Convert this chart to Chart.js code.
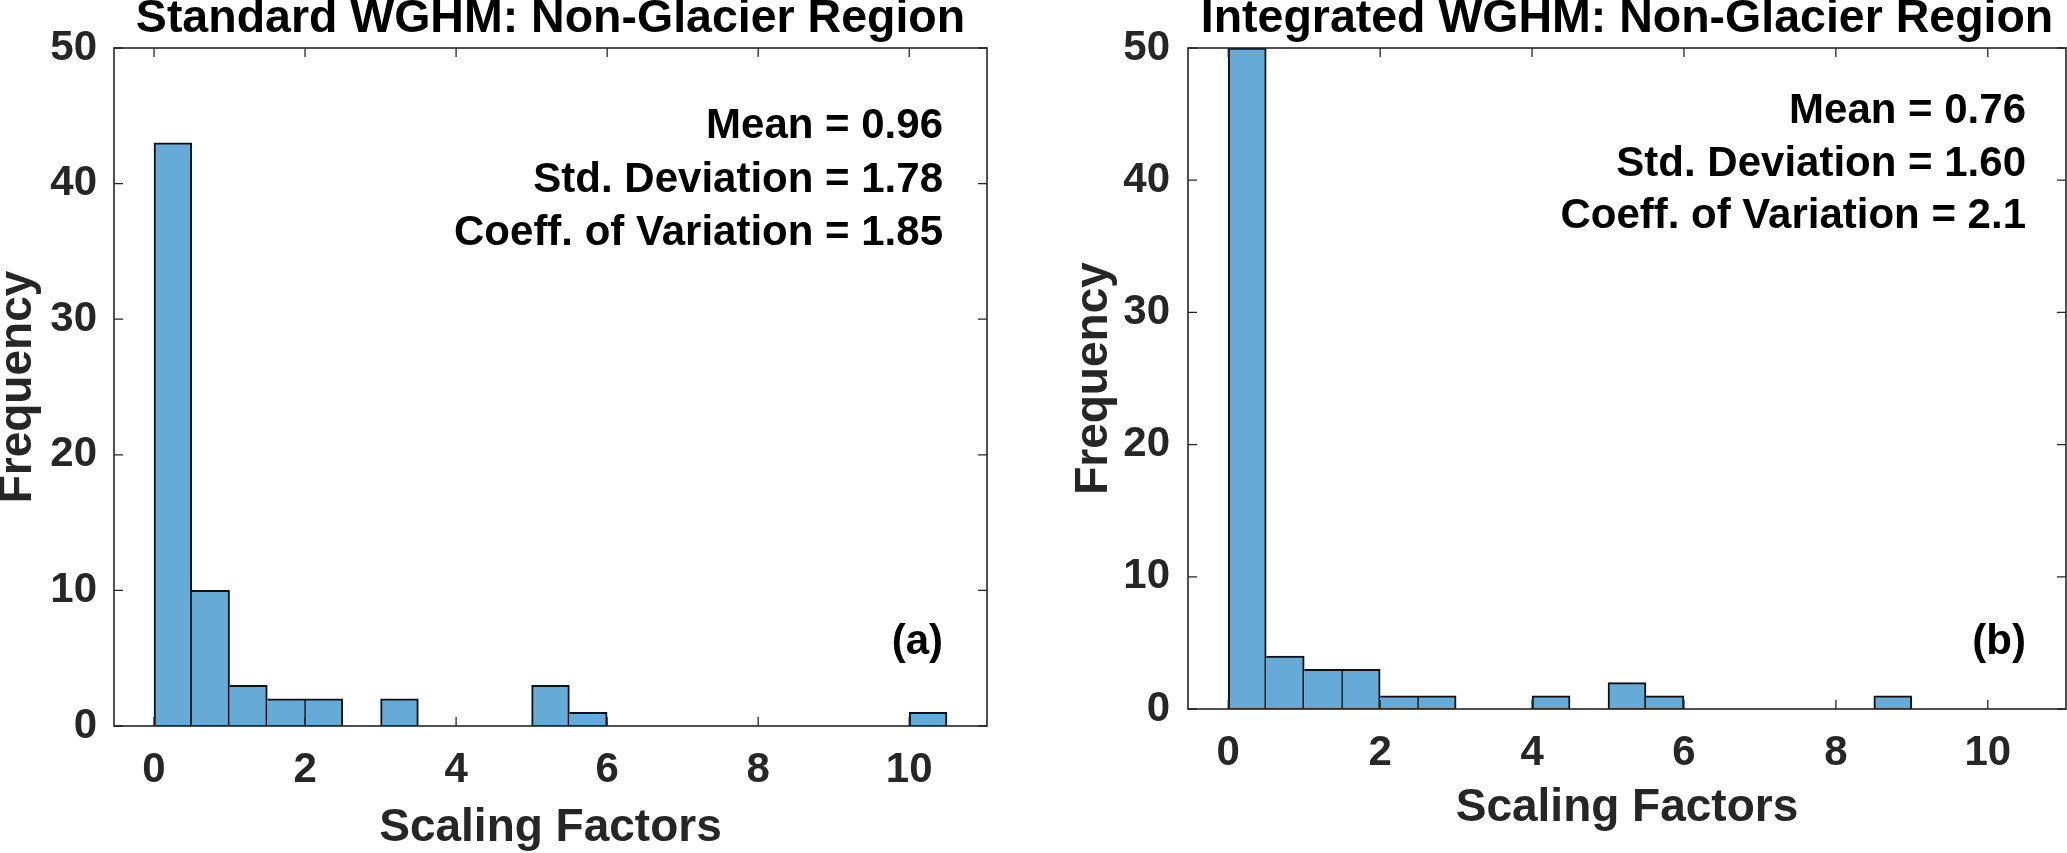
<!DOCTYPE html>
<html><head><meta charset="utf-8">
<script src="https://cdn.jsdelivr.net/npm/chart.js@4.4.1/dist/chart.umd.min.js"></script>
<style>
html,body{margin:0;padding:0;background:#fff;}
#wrap{position:relative;width:2067px;height:853px;overflow:hidden;}
#c1{position:absolute;left:0;top:0;}
#c2{position:absolute;left:1050px;top:0;}
</style></head><body>
<div id="wrap"><canvas id="c1" width="1050" height="853"></canvas><canvas id="c2" width="1017" height="853"></canvas></div>
<script>
// ---- data ----
const binWidth = 0.5;
const binStarts = [0,0.5,1,1.5,2,2.5,3,3.5,4,4.5,5,5.5,6,6.5,7,7.5,8,8.5,9,9.5,10,10.5];
const standardCounts   = [43,10,3,2,2,0,2,0,0,0,3,1,0,0,0,0,0,0,0,0,1,0];
const integratedCounts = [50,4,3,3,1,1,0,0,1,0,2,1,0,0,0,0,0,1,0,0,0,0];
const xTicks = [0,2,4,6,8,10];
const yTicks = [0,10,20,30,40,50];
const standardStats   = ['Mean = 0.96','Std. Deviation = 1.78','Coeff. of Variation = 1.85'];
const integratedStats = ['Mean = 0.76','Std. Deviation = 1.60','Coeff. of Variation = 2.1'];
const titles = ['Standard WGHM: Non-Glacier Region','Integrated WGHM: Non-Glacier Region'];
const panelTags = ['(a)','(b)'];
const xLabel = 'Scaling Factors';
const yLabel = 'Frequency';

const FONT = '"Liberation Sans", Arial, Helvetica, sans-serif';
const AX = '#262626';

function edgeWidths(counts, i) {
  const cur = counts[i], prev = i > 0 ? counts[i-1] : 0, next = i < counts.length-1 ? counts[i+1] : 0;
  const side = n => n === 0 ? 2 : (n > cur ? 0 : (n === cur ? 1 : 2));
  return {top: 2, bottom: 1, left: side(prev), right: side(next)};
}

const boxPlugin = {
  id: 'box',
  afterDatasetsDraw(chart) {
    const {ctx, chartArea: a, scales: {x, y}} = chart;
    const T = 9;
    ctx.save();
    ctx.strokeStyle = AX;
    ctx.lineWidth = 1.3;
    ctx.beginPath();
    xTicks.forEach(v => {
      const px = x.getPixelForValue(v);
      ctx.moveTo(px, a.bottom); ctx.lineTo(px, a.bottom - T);
      ctx.moveTo(px, a.top); ctx.lineTo(px, a.top + T);
    });
    yTicks.forEach(v => {
      const py = y.getPixelForValue(v);
      ctx.moveTo(a.left, py); ctx.lineTo(a.left + T, py);
      ctx.moveTo(a.right, py); ctx.lineTo(a.right - T, py);
    });
    ctx.stroke();
    ctx.lineWidth = 1.6;
    ctx.strokeRect(a.left, a.top, a.right - a.left, a.bottom - a.top);
    ctx.restore();
  }
};

const notesPlugin = {
  id: 'notes',
  afterDraw(chart, args, o) {
    const {ctx, chartArea: a} = chart;
    ctx.save();
    ctx.fillStyle = '#000';
    ctx.font = 'bold 42px ' + FONT;
    ctx.textAlign = 'right';
    ctx.textBaseline = 'alphabetic';
    o.lines.forEach((t, i) => ctx.fillText(t, a.right - o.dx, a.top + o.y0 + i * o.dy));
    ctx.fillText(o.tag, a.right - o.dx, a.top + o.tagY);
    ctx.restore();
  }
};

function makeChart(id, counts, stats, title, tag, geo) {
  const data = binStarts.map((b, i) => ({x: b + binWidth / 2, y: counts[i]}));
  return new Chart(document.getElementById(id), {
    type: 'bar',
    data: {datasets: [{
      data,
      backgroundColor: '#66AAD7',
      borderColor: '#111',
      borderSkipped: false,
      borderWidth: ctx => edgeWidths(counts, ctx.dataIndex),
      barPercentage: 1,
      categoryPercentage: 1
    }]},
    options: {
      responsive: false,
      animation: false,
      devicePixelRatio: 1,
      layout: {padding: {left: geo.padL, right: geo.padR, top: 0, bottom: geo.padB}},
      plugins: {
        legend: {display: false},
        tooltip: {enabled: false},
        title: {display: true, text: title, color: '#000', fullSize: false,
          font: {family: FONT, size: 46.5, weight: 'bold', lineHeight: 37.8/46.5},
          padding: {top: 0, bottom: 10.2}},
        notes: {lines: stats, tag: tag, dx: geo.dx, y0: geo.y0, dy: geo.dy, tagY: geo.tagY}
      },
      scales: {
        x: {
          type: 'linear', min: -0.53, max: 11.03, offset: false,
          grid: {display: false, drawTicks: false}, border: {display: false},
          afterBuildTicks: s => { s.ticks = xTicks.map(v => ({value: v})); },
          afterFit: s => { s.height = geo.xH; },
          ticks: {padding: 19, color: AX, maxRotation: 0, font: {family: FONT, size: 42, weight: 'bold'}},
          title: {display: true, text: xLabel, color: AX,
            font: {family: FONT, size: 46, weight: 'bold', lineHeight: 1},
            padding: {top: 0, bottom: 2}}
        },
        y: {
          type: 'linear', min: 0, max: 50,
          grid: {display: false, drawTicks: false}, border: {display: false},
          afterBuildTicks: s => { s.ticks = yTicks.map(v => ({value: v})); },
          afterFit: s => { s.width = geo.yW; },
          ticks: {padding: geo.yPad, color: AX, font: {family: FONT, size: 42, weight: 'bold'}},
          title: {display: true, text: yLabel, color: AX,
            font: {family: FONT, size: 46, weight: 'bold', lineHeight: 0.7},
            padding: {top: 2, bottom: 0}}
        }
      }
    },
    plugins: [boxPlugin, notesPlugin]
  });
}

makeChart('c1', standardCounts, standardStats, titles[0], panelTags[0],
  {padL: 0, padR: 63, padB: 0, xH: 127, yW: 114, yPad: 17, dx: 44, y0: 90, dy: 53.5, tagY: 606});
makeChart('c2', integratedCounts, integratedStats, titles[1], panelTags[1],
  {padL: 26, padR: 1, padB: 20, xH: 124, yW: 112, yPad: 18, dx: 40, y0: 75, dy: 52.5, tagY: 606});
</script>
</body></html>
